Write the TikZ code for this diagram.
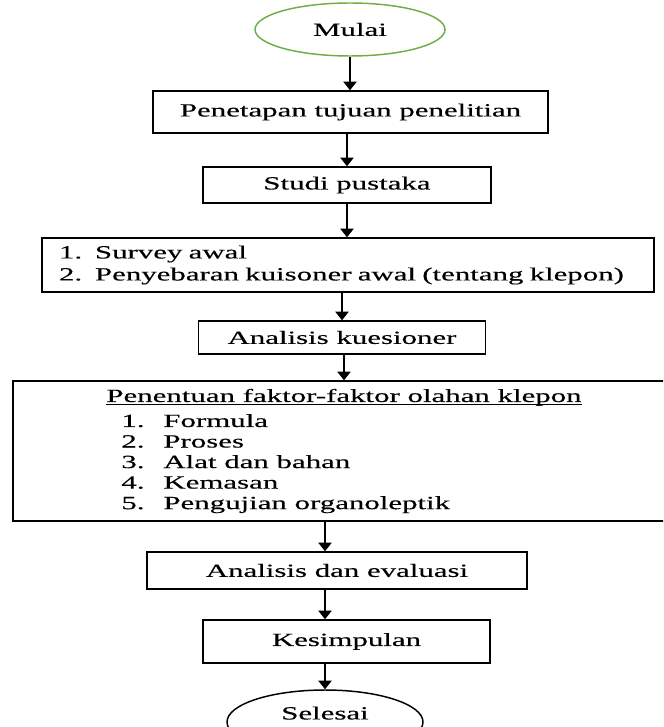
\documentclass[tikz,border=0pt]{standalone}
\usepackage{fontspec}
\setmainfont{Liberation Serif}[FakeStretch=1.66,FakeBold=0.3]
\usetikzlibrary{arrows.meta,shapes.geometric}

\definecolor{hijau}{HTML}{70AD47}
\newcommand{\butir}[2]{\makebox[#1][l]{#2}}
\newcommand{\garis}[1]{\setbox0\hbox{#1}\rlap{\rule[-2pt]{\wd0}{0.6pt}}\box0}

\begin{document}
\begin{tikzpicture}[x=0.75pt,y=-0.75pt,
        font=\fontsize{13.95}{15.4}\selectfont,
        panah/.style={-{Triangle[width=10pt,length=6.5pt]},line width=1.1pt}]

        \useasboundingbox (0,0) rectangle (663,727);
        \clip (0,0) rectangle (663,727);

        \begin{scope}[every node/.style={ellipse,draw,line width=1.1pt,inner sep=0pt}]
          \node[draw=hijau,minimum width=142.5pt,minimum height=39.75pt] (mulai)   at (350,29.5) {Mulai};
          \node[minimum width=147pt,minimum height=48pt]                 (selesai) at (325,722)  {\raisebox{13.5pt}{Selesai}};
        \end{scope}

        \begin{scope}[every node/.style={rectangle,draw,line width=1.1pt,inner sep=0pt}]
          \node[minimum width=296.25pt,minimum height=31.5pt] (tujuan)  at (350.5,112) {Penetapan tujuan penelitian};
          \node[minimum width=216pt,minimum height=27pt]      (pustaka) at (347,185)   {Studi pustaka};
          \node[minimum width=459pt,minimum height=40.5pt,text width=433.5pt,align=left] (survey) at (348,265)
            {\butir{27pt}{1.}Survey awal\\[1.1pt]
             \butir{27pt}{2.}Penyebaran kuisoner awal (tentang klepon)};
          \node[minimum width=215.25pt,minimum height=24.75pt] (kuesioner) at (342,337.5) {Analisis kuesioner};
          \node[minimum width=496.5pt,minimum height=105pt,align=left] (faktor) at (344,451)
            {\garis{Penentuan faktor-faktor olahan klepon}\\[3.35pt]
             \hspace*{11.25pt}\butir{31.5pt}{1.}Formula\\
             \hspace*{11.25pt}\butir{31.5pt}{2.}Proses\\
             \hspace*{11.25pt}\butir{31.5pt}{3.}Alat dan bahan\\
             \hspace*{11.25pt}\butir{31.5pt}{4.}Kemasan\\
             \hspace*{11.25pt}\butir{31.5pt}{5.}Pengujian organoleptik};
          \node[minimum width=285pt,minimum height=27.75pt]    (evaluasi)   at (337,570.5)   {Analisis dan evaluasi};
          \node[minimum width=215.25pt,minimum height=32.25pt] (kesimpulan) at (346.5,641.5) {Kesimpulan};
        \end{scope}

        \begin{scope}[every edge/.style={draw,panah}]
          \path (mulai.south)               edge (tujuan.north -| mulai.south);
          \path (tujuan.south -| pustaka)   edge (pustaka.north);
          \path (pustaka.south)             edge (survey.north -| pustaka.south);
          \path (survey.south -| kuesioner) edge (kuesioner.north);
          \path (kuesioner.south -| faktor) edge (faktor.north);
          \path (faktor.south -| selesai)   edge (evaluasi.north -| selesai);
          \path (evaluasi.south -| selesai) edge (kesimpulan.north -| selesai);
          \path (kesimpulan.south -| selesai) edge (selesai.north);
        \end{scope}

      \end{tikzpicture}
\end{document}
